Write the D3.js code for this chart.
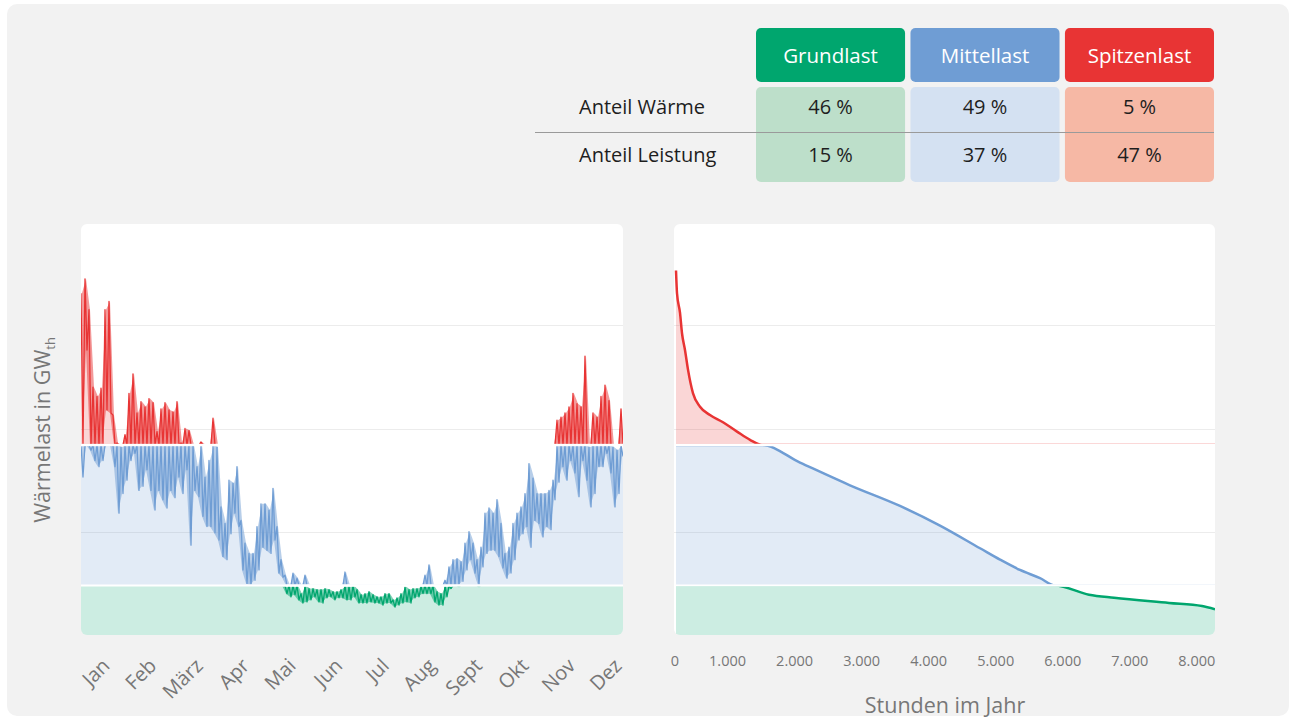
<!DOCTYPE html>
<html lang="de">
<head>
<meta charset="utf-8">
<style>
body {
  margin: 0;
  background: #fff;
}
svg text {
  font-family: "Open Sans", Lato, sans-serif;
}
.grid line {
  stroke: #ececec;
  stroke-width: 1px;
  shape-rendering: crispEdges;
}
</style>
</head>
<body>
<svg width="1289" height="719"></svg>

<script src="https://cdn.jsdelivr.net/npm/d3@7"></script>
<script>
  // Tabelle oben rechts
  var loadTypes = ["Grundlast", "Mittellast", "Spitzenlast"];
  var rowLabels = ["Anteil Wärme", "Anteil Leistung"];
  var shareHeat = [46, 49, 5];
  var sharePower = [15, 37, 47];

  // Schwellen in GW
  var baseLimit = 4.8,
      peakLimit = 18.4;

  // Jahresgang: pro Spalte (~2,7 Tage) Maximum und Minimum in GW
  var months = ["Jan", "Feb", "März", "Apr", "Mai", "Jun", "Jul", "Aug", "Sept", "Okt", "Nov", "Dez"];
  var colHigh = [
    33.1, 34.5, 31.5, 24.0, 23.1, 23.9, 31.5, 32.3, 21.3, 18.6, 18.2, 19.4, 23.4, 25.3, 21.5, 22.6, 22.1,
    22.9, 22.5, 19.7, 21.9, 22.5, 21.8, 21.6, 22.6, 18.6, 20.0, 19.8, 18.4, 16.3, 18.7, 15.3, 16.9, 21.0,
    18.2, 12.4, 10.8, 15.0, 14.7, 16.3, 11.1, 8.9, 7.9, 7.9, 10.5, 12.7, 12.7, 12.1, 14.2, 10.5, 7.3,
    5.8, 4.8, 6.0, 5.5, 4.0, 5.8, 4.5, 4.5, 4.4, 4.4, 4.5, 4.4, 4.2, 4.2, 4.4, 6.1, 4.7, 4.8,
    4.4, 3.9, 4.0, 4.2, 3.9, 3.7, 3.7, 4.0, 4.0, 3.4, 3.6, 4.0, 4.7, 4.4, 4.5, 4.5, 4.7, 5.8, 6.8,
    4.8, 4.2, 4.0, 5.3, 6.6, 7.3, 7.4, 7.1, 8.9, 10.0, 8.9, 7.3, 8.5, 11.8, 12.3,
    11.8, 13.1, 10.8, 7.9, 8.5, 10.8, 11.8, 12.4, 13.7, 16.6, 15.2, 13.7, 13.7, 13.7, 14.0, 15.0,
    20.8, 21.1, 21.5, 22.1, 23.4, 22.4, 22.1, 27.0, 18.2, 21.5, 21.1, 23.1, 24.2, 22.7, 18.2, 17.9, 21.9
  ];
  var colLow = [
    15.3, 27.6, 17.9, 16.9, 16.3, 16.9, 21.8, 21.5, 16.3, 11.8, 13.7, 15.0, 16.9, 17.6, 14.0, 14.4, 16.0,
    14.0, 12.1, 14.0, 13.1, 12.3, 14.0, 13.3, 15.3, 13.7, 16.0, 8.7, 14.0, 13.4, 11.5, 10.5, 10.5, 9.9,
    9.2, 7.6, 7.3, 9.8, 11.8, 10.5, 6.3, 5.0, 4.8, 5.3, 6.3, 8.5, 8.2, 7.9, 9.2, 6.0, 5.6,
    4.0, 3.7, 3.9, 3.4, 3.1, 3.2, 3.4, 3.7, 3.2, 3.1, 3.6, 3.7, 3.4, 3.6, 3.6, 3.4, 3.4, 3.7,
    3.1, 3.1, 3.1, 3.2, 3.1, 3.1, 2.9, 3.1, 3.1, 2.7, 2.9, 3.1, 3.2, 3.1, 3.6, 3.7, 4.0, 4.0, 4.0,
    3.2, 2.9, 2.9, 3.7, 4.5, 4.8, 4.7, 5.2, 6.3, 7.3, 6.0, 4.7, 6.6, 7.9, 8.2,
    8.2, 7.6, 6.5, 5.5, 6.0, 7.3, 9.2, 9.8, 10.5, 8.5, 11.1, 10.8, 9.5, 10.5, 10.2, 13.1,
    14.8, 16.3, 15.0, 16.9, 15.7, 13.4, 16.9, 15.0, 12.4, 13.7, 16.3, 16.3, 17.6, 15.7, 12.4, 13.7, 17.3
  ];

  // Jahresdauerlinie
  var hours = [0, 15, 60, 90, 134, 179, 254, 358, 507, 701, 910, 1104, 1283, 1850, 2595, 3341, 3938,
               4535, 4833, 5131, 5430, 5653, 6161, 6534, 7354, 7846, 8040];
  var hourLoad = [35.3, 33.1, 31.2, 29.2, 27.6, 25.7, 23.4, 22.1, 21.3, 20.6, 19.7, 18.9, 18.4, 16.7, 14.5,
                  12.5, 10.6, 8.4, 7.3, 6.3, 5.5, 4.8, 3.9, 3.6, 3.1, 2.8, 2.5];
  var hourTicks = [0, 1000, 2000, 3000, 4000, 5000, 6000, 7000, 8000];

  var colors = { Grundlast: "#00a66e", Mittellast: "#6f9dd4", Spitzenlast: "#e83434" };
  var lightColors = { Grundlast: "#bddfca", Mittellast: "#d4e1f2", Spitzenlast: "#f6b8a5" };

  var svg = d3.select("svg");
  var defs = svg.append("defs");

  svg.append("rect")
      .attr("x", 7).attr("y", 4)
      .attr("width", 1282).attr("height", 712)
      .attr("rx", 10)
      .attr("fill", "#f2f2f2");

  // ---- Tabelle ----
  var colX = d3.scaleBand().domain(loadTypes).range([756, 1214]).paddingInner(0.035);
  var table = svg.append("g");

  table.selectAll(".head")
    .data(loadTypes)
    .enter().append("rect")
      .attr("x", function(d) { return colX(d); })
      .attr("y", 28)
      .attr("width", colX.bandwidth())
      .attr("height", 54)
      .attr("rx", 5)
      .attr("fill", function(d) { return colors[d]; });

  table.selectAll(".headText")
    .data(loadTypes)
    .enter().append("text")
      .attr("x", function(d) { return colX(d) + colX.bandwidth() / 2; })
      .attr("y", 56)
      .attr("dy", "0.35em")
      .attr("text-anchor", "middle")
      .attr("font-size", 20.5)
      .attr("fill", "#fff")
      .text(function(d) { return d; });

  table.selectAll(".cell")
    .data(loadTypes)
    .enter().append("rect")
      .attr("x", function(d) { return colX(d); })
      .attr("y", 87)
      .attr("width", colX.bandwidth())
      .attr("height", 95)
      .attr("rx", 5)
      .attr("fill", function(d) { return lightColors[d]; });

  table.append("line")
      .attr("x1", 535).attr("x2", 1214)
      .attr("y1", 132.5).attr("y2", 132.5)
      .attr("stroke", "#9a9a9a")
      .attr("stroke-width", 1);

  var rowY = [107, 155];
  [shareHeat, sharePower].forEach(function(vals, r) {
    table.append("text")
        .attr("x", 579)
        .attr("y", rowY[r])
        .attr("dy", "0.35em")
        .attr("font-size", 20)
        .attr("fill", "#1e1e1e")
        .text(rowLabels[r]);
    table.selectAll(".val" + r)
      .data(vals)
      .enter().append("text")
        .attr("x", function(d, i) { return colX(loadTypes[i]) + colX.bandwidth() / 2; })
        .attr("y", rowY[r])
        .attr("dy", "0.35em")
        .attr("text-anchor", "middle")
        .attr("font-size", 20)
        .attr("fill", "#1e1e1e")
        .text(function(d) { return d + " %"; });
  });

  // ---- Diagramme ----
  var y = d3.scaleLinear().domain([0, 40]).range([635, 222]);

  var layers = [
    { key: "Grundlast", top: baseLimit, bottom: 0,
      lo: function() { return 0; }, hi: function(v) { return Math.min(v, baseLimit); } },
    { key: "Mittellast", top: peakLimit, bottom: baseLimit,
      lo: function() { return baseLimit; }, hi: function(v) { return Math.max(baseLimit, Math.min(v, peakLimit)); } },
    { key: "Spitzenlast", top: 40, bottom: peakLimit,
      lo: function() { return peakLimit; }, hi: function(v) { return Math.max(peakLimit, v); } }
  ];

  function drawPanel(id, x0, x1, pts, band, x, curve, lineWidth) {
    var g = svg.append("g");
    defs.append("clipPath").attr("id", id)
      .append("rect")
        .attr("x", x0).attr("y", 224)
        .attr("width", x1 - x0).attr("height", 411)
        .attr("rx", 6);

    // ein Clip je Lastband, damit flache Linienstücke an den Schwellen verschwinden
    layers.forEach(function(l) {
      var top = y(l.top) + (l.top < 40 ? 1.2 : -5),
          bottom = y(l.bottom) - (l.bottom > 0 ? 1.2 : -5);
      defs.append("clipPath").attr("id", id + l.key)
        .append("rect")
          .attr("x", x0 - 5).attr("y", top)
          .attr("width", x1 - x0 + 10).attr("height", bottom - top);
    });

    g.append("rect")
        .attr("x", x0).attr("y", 224)
        .attr("width", x1 - x0).attr("height", 411)
        .attr("rx", 6)
        .attr("fill", "#fff");

    var inner = g.append("g").attr("clip-path", "url(#" + id + ")");

    inner.append("g").attr("class", "grid")
      .selectAll("line")
      .data([10, 20, 30])
      .enter().append("line")
        .attr("x1", x0).attr("x2", x1)
        .attr("y1", function(d) { return Math.round(y(d)) + 0.5; })
        .attr("y2", function(d) { return Math.round(y(d)) + 0.5; });

    layers.forEach(function(l) {
      var area = d3.area()
          .x(function(d) { return x(d[0]); })
          .y0(function(d) { return y(l.lo(d[1])); })
          .y1(function(d) { return y(l.hi(d[1])); })
          .curve(curve);
      inner.append("path")
          .datum(pts)
          .attr("d", area)
          .attr("fill", colors[l.key])
          .attr("fill-opacity", 0.2);
    });

    layers.forEach(function(l) {
      var lg = inner.append("g").attr("clip-path", "url(#" + id + l.key + ")");
      if (band) {
        // dichte Stundenwerte: Band zwischen Minimum und Maximum
        var env = d3.area()
            .x(function(d) { return x(d[0]); })
            .y0(function(d) { return y(l.hi(d[2])); })
            .y1(function(d) { return y(l.hi(d[1])); });
        lg.append("path")
            .datum(band)
            .attr("d", env)
            .attr("fill", colors[l.key])
            .attr("fill-opacity", 0.5);
      }
      var line = d3.line()
          .x(function(d) { return x(d[0]); })
          .y(function(d) { return y(l.hi(d[1])); })
          .curve(curve);
      lg.append("path")
          .datum(pts)
          .attr("d", line)
          .attr("fill", "none")
          .attr("stroke", colors[l.key])
          .attr("stroke-width", lineWidth)
          .attr("stroke-linejoin", "round");
    });

    inner.selectAll(".limit")
      .data([baseLimit, peakLimit])
      .enter().append("line")
        .attr("x1", x0).attr("x2", x1)
        .attr("y1", function(d) { return y(d); })
        .attr("y2", function(d) { return y(d); })
        .attr("stroke", "#fff")
        .attr("stroke-width", 2);
    return g;
  }

  // Links: Jahresgang
  var xDay = d3.scaleLinear().domain([0, 365]).range([81, 623]);
  var nPts = colHigh.length * 2;
  var yearPts = [], yearBand = [];
  colHigh.forEach(function(h, i) {
    yearPts.push([(2 * i) * 365 / (nPts - 1), h]);
    yearPts.push([(2 * i + 1) * 365 / (nPts - 1), colLow[i]]);
    yearBand.push([(2 * i + 0.5) * 365 / (nPts - 1), h, colLow[i]]);
  });
  drawPanel("clipLeft", 81, 623, yearPts, yearBand, xDay, d3.curveLinear, 1.3);

  var xMonth = d3.scalePoint().domain(months).range([108, 620]);
  svg.append("g").selectAll("text")
    .data(months)
    .enter().append("text")
      .attr("transform", function(d) { return "translate(" + (xMonth(d) + 3) + ",667) rotate(-45)"; })
      .attr("text-anchor", "end")
      .attr("font-size", 20)
      .attr("fill", "#777")
      .text(function(d) { return d; });

  var yLabel = svg.append("text")
      .attr("transform", "translate(50,430) rotate(-90)")
      .attr("text-anchor", "middle")
      .attr("font-size", 21.5)
      .attr("fill", "#777");
  yLabel.append("tspan").text("Wärmelast in GW");
  yLabel.append("tspan").attr("font-size", 13).attr("dy", 5).text("th");

  // Rechts: Jahresdauerlinie
  var xHour = d3.scaleLinear().domain([0, 8040]).range([676, 1215]);
  var durPts = hours.map(function(h, i) { return [h, hourLoad[i]]; });
  drawPanel("clipRight", 674, 1215, durPts, null, xHour, d3.curveMonotoneX, 2.5);

  var fmt = d3.formatLocale({ decimal: ",", thousands: ".", grouping: [3], currency: ["", "€"] }).format(",");
  svg.append("g").selectAll("text")
    .data(hourTicks)
    .enter().append("text")
      .attr("x", function(d) { return xHour(d) + 3; })
      .attr("y", 661)
      .attr("dy", "0.35em")
      .attr("text-anchor", "end")
      .attr("font-size", 14.5)
      .attr("fill", "#777")
      .text(function(d) { return fmt(d); });

  svg.append("text")
      .attr("x", 945)
      .attr("y", 705)
      .attr("dy", "0.35em")
      .attr("text-anchor", "middle")
      .attr("font-size", 21.5)
      .attr("fill", "#777")
      .text("Stunden im Jahr");
</script>
</body>
</html>
